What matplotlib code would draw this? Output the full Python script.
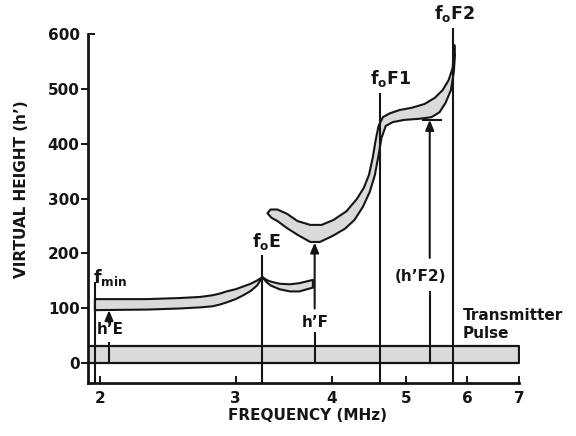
import matplotlib
matplotlib.use("Agg")
import matplotlib.pyplot as plt
import matplotlib.lines as mlines
from matplotlib.ticker import FixedLocator, NullLocator, FixedFormatter

plt.rcParams["font.family"] = ["DejaVu Sans"]
plt.rcParams["mathtext.fontset"] = "dejavusans"

# ---- ionogram traces (frequency in MHz, virtual height in km) ----
# E layer: from f_min up to the critical frequency f_oE
e_freq = [1.97, 2.30, 2.54, 2.70, 2.80, 2.86, 2.92, 3.00, 3.07, 3.14, 3.20, 3.25]
e_upper = [117, 117, 119, 121, 124, 127, 131, 135, 140, 145, 151, 157]
e_lower = [97, 98, 100, 102, 104, 107, 111, 117, 124, 132, 142, 157]

# retardation branch just above f_oE
e2_freq = [3.25, 3.29, 3.33, 3.42, 3.53, 3.63, 3.78]
e2_upper = [157, 152, 149, 145, 144, 146, 152]
e2_lower = [157, 148, 142, 135, 131, 131, 138]

# F layer (F1 and F2) trace
f_up_freq = [3.30, 3.33, 3.40, 3.50, 3.61, 3.75, 3.88, 4.02, 4.18, 4.31, 4.40, 4.47,
             4.52, 4.56, 4.60, 4.66, 4.76, 4.90, 5.08, 5.28, 5.44, 5.57, 5.67, 5.74,
             5.76, 5.77]
f_up_h = [273, 280, 280, 272, 259, 252, 252, 261, 277, 299, 319, 343,
          374, 406, 432, 448, 455, 461, 465, 472, 483, 497, 515, 537,
          561, 579]
f_lo_freq = [3.30, 3.34, 3.40, 3.50, 3.61, 3.75, 3.86, 4.01, 4.16, 4.28, 4.39, 4.48,
             4.55, 4.60, 4.64, 4.70, 4.80, 4.97, 5.20, 5.39, 5.52, 5.62, 5.71, 5.76,
             5.78, 5.77]
f_lo_h = [273, 265, 259, 246, 234, 221, 221, 232, 245, 261, 285, 312,
          343, 379, 410, 432, 439, 443, 445, 448, 457, 474, 497, 530,
          561, 579]

# transmitter pulse band
pulse_freq = [1.93, 7.0]
pulse_bottom = 0
pulse_top = 32

# critical / limiting frequencies: (freq, top height)
f_min, f_min_top = 1.97, 148
f_oE, f_oE_top = 3.25, 197
f_oF1, f_oF1_top = 4.62, 492
f_oF2, f_oF2_top = 5.75, 610

# virtual-height markers: (freq, arrow tip)
hE_freq, hE_h = 2.055, 97
hF_freq, hF_h = 3.80, 220
hF2_freq, hF2_h = 5.36, 443
hF2_bar = [5.25, 5.54]

x_ticks = [2, 3, 4, 5, 6, 7]
y_ticks = [0, 100, 200, 300, 400, 500, 600]

ink = "#151515"
fill = "#dadada"
lw = 1.5

fig = plt.figure(figsize=(5.76, 4.36), dpi=100)
ax = fig.add_axes([0.1528, 0.1216, 0.7483, 0.8784])
ax.set_xscale("log")
ax.set_xlim(1.93, 7.0)
ax.set_ylim(-35.5, 661)

bottom = ax.get_ylim()[0]

# transmitter pulse
ax.fill_between(pulse_freq, pulse_bottom, pulse_top, facecolor=fill,
                edgecolor=ink, linewidth=1.6, zorder=2)


def band(freq_a, h_a, freq_b, h_b):
    xs = list(freq_a) + list(freq_b)[::-1]
    ys = list(h_a) + list(h_b)[::-1]
    ax.fill(xs, ys, facecolor=fill, edgecolor=ink, linewidth=lw,
            joinstyle="round", zorder=3)


band(e_freq, e_upper, e_freq, e_lower)
band(e2_freq, e2_upper, e2_freq, e2_lower)
band(f_up_freq, f_up_h, f_lo_freq, f_lo_h)

# vertical frequency markers
for f, top in [(f_min, f_min_top), (f_oE, f_oE_top), (f_oF1, f_oF1_top),
               (f_oF2, f_oF2_top)]:
    ax.plot([f, f], [bottom, top], color=ink, lw=lw, zorder=4,
            clip_on=False, solid_capstyle="butt")

# virtual-height arrows, broken around their labels
arrow_kw = dict(arrowstyle="-|>,head_length=0.6,head_width=0.25",
                color=ink, lw=lw, shrinkA=0, shrinkB=0)
for f, tip, gap_lo, gap_hi in [(hE_freq, hE_h, 37, 74),
                               (hF_freq, hF_h, 55, 100),
                               (hF2_freq, hF2_h, 130, 192)]:
    ax.plot([f, f], [pulse_bottom, gap_lo], color=ink, lw=lw, zorder=4)
    ax.annotate("", xy=(f, tip), xytext=(f, gap_hi), arrowprops=arrow_kw,
                zorder=5)
ax.plot(hF2_bar, [hF2_h, hF2_h], color=ink, lw=lw, zorder=4)

# labels
tk = dict(color=ink, fontweight="bold", fontsize=11)
mk = dict(color=ink, fontweight="bold", fontsize=12.5)
ax.text(1.96, 157, r"$\mathregular{f_{min}}$", ha="left", va="center", **mk)
ax.text(3.29, 221, r"$\mathregular{f_oE}$", ha="center", va="center", **mk)
ax.text(4.77, 519, r"$\mathregular{f_oF1}$", ha="center", va="center", **mk)
ax.text(5.775, 637, r"$\mathregular{f_oF2}$", ha="center", va="center",
        clip_on=False, **mk)
ax.text(1.98, 61, "h\u2019E", ha="left", va="center", **tk)
ax.text(3.81, 75, "h\u2019F", ha="center", va="center", **tk)
ax.text(5.22, 159, "(h\u2019F2)", ha="center", va="center", **tk)
ax.text(5.91, 88, "Transmitter", ha="left", va="center", clip_on=False, **tk)
ax.text(5.91, 54, "Pulse", ha="left", va="center", clip_on=False, **tk)

# axes styling
for side in ("top", "right"):
    ax.spines[side].set_visible(False)
for side in ("left", "bottom"):
    ax.spines[side].set_linewidth(2.0)
    ax.spines[side].set_color(ink)
ax.spines["left"].set_bounds(bottom, 600)
ax.spines["bottom"].set_bounds(1.93, 7.0)

ax.xaxis.set_major_locator(FixedLocator(x_ticks))
ax.xaxis.set_major_formatter(FixedFormatter([str(t) for t in x_ticks]))
ax.xaxis.set_minor_locator(NullLocator())
ax.yaxis.set_major_locator(FixedLocator(y_ticks))
ax.tick_params(axis="x", direction="in", length=5, width=1.4, pad=6,
               colors=ink, labelsize=11)
ax.tick_params(axis="y", direction="out", length=5, width=1.4, pad=1,
               colors=ink, labelsize=11)
for lab in ax.get_xticklabels() + ax.get_yticklabels():
    lab.set_fontweight("bold")
top_tick = ax.yaxis.get_major_ticks()[-1]
top_tick.tick1line.set_marker(mlines.TICKRIGHT)

fig.text(0.038, 0.566, "VIRTUAL HEIGHT (h\u2019)", rotation=90, ha="center",
         va="center", **tk)
fig.text(0.533, 0.048, "FREQUENCY (MHz)", ha="center", va="center", **tk)

fig.savefig("out.png", dpi=100)
